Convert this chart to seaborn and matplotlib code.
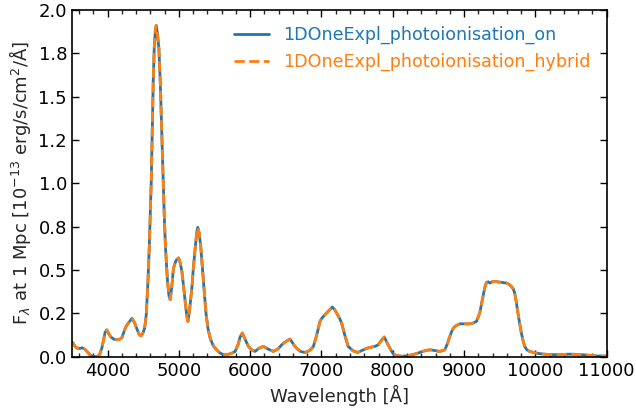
import matplotlib
matplotlib.use("Agg")
import matplotlib.pyplot as plt
from matplotlib.ticker import MultipleLocator, FormatStrFormatter
import seaborn as sns
import pandas as pd

# Model spectra: wavelength [A] and flux [1e-13 erg/s/cm^2/A] at 1 Mpc
wavelength = [3500, 3517, 3545, 3573, 3610, 3643, 3680, 3713, 3759, 3800,
              3853, 3889, 3920, 3945, 3965, 3990, 4015, 4040, 4085, 4133,
              4175, 4203, 4235, 4263, 4300, 4343, 4380, 4413, 4445, 4469,
              4495, 4520, 4543, 4567, 4585, 4599, 4613, 4623, 4632, 4641,
              4655, 4670, 4683, 4697, 4710, 4720, 4739, 4753, 4767, 4781,
              4795, 4813, 4841, 4862, 4879, 4900, 4925, 4960, 4996, 5020,
              5043, 5065, 5089, 5110, 5127, 5150, 5183, 5205, 5229, 5250,
              5266, 5285, 5309, 5325, 5345, 5365, 5383, 5410, 5439, 5475,
              5509, 5545, 5579, 5620, 5649, 5700, 5750, 5789, 5830, 5860,
              5891, 5930, 5975, 6020, 6069, 6120, 6185, 6250, 6325, 6390,
              6443, 6500, 6559, 6610, 6653, 6710, 6769, 6830, 6885, 6930,
              6979, 7010, 7049, 7100, 7151, 7185, 7213, 7250, 7283, 7330,
              7375, 7440, 7507, 7560, 7609, 7660, 7703, 7750, 7795, 7840,
              7880, 7920, 7959, 8005, 8060, 8140, 8230, 8320, 8420, 8480,
              8530, 8590, 8659, 8729, 8765, 8799, 8835, 8869, 8939, 9000,
              9079, 9130, 9173, 9219, 9265, 9290, 9313, 9340, 9359, 9385,
              9405, 9450, 9499, 9550, 9593, 9630, 9663, 9690, 9709, 9730,
              9755, 9780, 9803, 9825, 9849, 9880, 9919, 10013, 10100, 10190,
              10300, 10470, 10570, 10660, 10760, 10850, 11000]

flux_on = [0.085, 0.079, 0.060, 0.050, 0.048, 0.052, 0.044, 0.031, 0.008, 0.002,
           0.001, 0.012, 0.050, 0.098, 0.140, 0.155, 0.135, 0.117, 0.102, 0.098,
           0.102, 0.112, 0.150, 0.178, 0.198, 0.222, 0.195, 0.160, 0.128, 0.120,
           0.135, 0.165, 0.242, 0.435, 0.627, 0.820, 1.010, 1.200, 1.400, 1.590,
           1.780, 1.880, 1.910, 1.870, 1.820, 1.780, 1.590, 1.400, 1.200, 1.010,
           0.820, 0.627, 0.435, 0.350, 0.330, 0.400, 0.512, 0.555, 0.570, 0.540,
           0.492, 0.410, 0.319, 0.240, 0.204, 0.270, 0.396, 0.520, 0.627, 0.715,
           0.746, 0.715, 0.627, 0.540, 0.435, 0.330, 0.242, 0.160, 0.108, 0.070,
           0.050, 0.034, 0.021, 0.014, 0.012, 0.015, 0.022, 0.031, 0.070, 0.115,
           0.137, 0.100, 0.060, 0.040, 0.031, 0.048, 0.060, 0.045, 0.031, 0.045,
           0.069, 0.088, 0.102, 0.070, 0.048, 0.030, 0.025, 0.035, 0.058, 0.120,
           0.204, 0.225, 0.242, 0.265, 0.287, 0.272, 0.252, 0.225, 0.194, 0.120,
           0.060, 0.035, 0.025, 0.035, 0.044, 0.052, 0.056, 0.060, 0.069, 0.095,
           0.114, 0.080, 0.050, 0.017, 0.006, 0.003, 0.008, 0.017, 0.031, 0.038,
           0.040, 0.036, 0.031, 0.040, 0.075, 0.117, 0.155, 0.175, 0.190, 0.190,
           0.190, 0.195, 0.204, 0.252, 0.348, 0.400, 0.429, 0.432, 0.425, 0.430,
           0.435, 0.433, 0.431, 0.428, 0.425, 0.418, 0.406, 0.390, 0.368, 0.320,
           0.252, 0.190, 0.137, 0.095, 0.060, 0.040, 0.031, 0.021, 0.016, 0.013,
           0.012, 0.015, 0.014, 0.012, 0.008, 0.005, 0.004]

flux_hybrid = [0.085, 0.079, 0.060, 0.050, 0.048, 0.052, 0.044, 0.031, 0.008, 0.002,
               0.001, 0.012, 0.050, 0.098, 0.140, 0.155, 0.135, 0.117, 0.102, 0.098,
               0.102, 0.112, 0.150, 0.178, 0.198, 0.222, 0.195, 0.160, 0.128, 0.120,
               0.135, 0.165, 0.242, 0.435, 0.627, 0.820, 1.010, 1.200, 1.400, 1.590,
               1.780, 1.880, 1.910, 1.870, 1.820, 1.780, 1.590, 1.400, 1.200, 1.010,
               0.820, 0.627, 0.435, 0.350, 0.330, 0.400, 0.512, 0.555, 0.570, 0.540,
               0.492, 0.410, 0.319, 0.240, 0.204, 0.270, 0.396, 0.520, 0.627, 0.715,
               0.746, 0.715, 0.627, 0.540, 0.435, 0.330, 0.242, 0.160, 0.108, 0.070,
               0.050, 0.034, 0.021, 0.014, 0.012, 0.015, 0.022, 0.031, 0.070, 0.115,
               0.137, 0.100, 0.060, 0.040, 0.031, 0.048, 0.060, 0.045, 0.031, 0.045,
               0.069, 0.088, 0.102, 0.070, 0.048, 0.030, 0.025, 0.035, 0.058, 0.120,
               0.204, 0.225, 0.242, 0.265, 0.287, 0.272, 0.252, 0.225, 0.194, 0.120,
               0.060, 0.035, 0.025, 0.035, 0.044, 0.052, 0.056, 0.060, 0.069, 0.095,
               0.114, 0.080, 0.050, 0.017, 0.006, 0.003, 0.008, 0.017, 0.031, 0.038,
               0.040, 0.036, 0.031, 0.040, 0.075, 0.117, 0.155, 0.175, 0.190, 0.190,
               0.190, 0.195, 0.204, 0.252, 0.348, 0.400, 0.429, 0.432, 0.425, 0.430,
               0.435, 0.433, 0.431, 0.428, 0.425, 0.418, 0.406, 0.390, 0.368, 0.320,
               0.252, 0.190, 0.137, 0.095, 0.060, 0.040, 0.031, 0.021, 0.016, 0.013,
               0.012, 0.015, 0.014, 0.012, 0.008, 0.005, 0.004]

label_on = "1DOneExpl_photoionisation_on"
label_hybrid = "1DOneExpl_photoionisation_hybrid"

sns.set_style("ticks")
plt.rcParams["font.family"] = ["DejaVu Sans"]
plt.rcParams["mathtext.fontset"] = "dejavusans"

df_on = pd.DataFrame({"wl": wavelength, "flux": flux_on})
df_hy = pd.DataFrame({"wl": wavelength, "flux": flux_hybrid})

fig = plt.figure(figsize=(6.36, 4.12), dpi=100)
ax = fig.add_axes([0.113, 0.134, 0.841, 0.842])

sns.lineplot(data=df_on, x="wl", y="flux", ax=ax, color="#1f77b4",
             linewidth=2.0, label=label_on, solid_joinstyle="round")
sns.lineplot(data=df_hy, x="wl", y="flux", ax=ax, color="#ff7f0e",
             linewidth=2.0, linestyle="--", label=label_hybrid,
             dash_joinstyle="round")

ax.set_xlim(3500, 11000)
ax.set_ylim(0, 2.0)
ax.xaxis.set_major_locator(MultipleLocator(1000))
ax.xaxis.set_minor_locator(MultipleLocator(200))
ax.yaxis.set_major_locator(MultipleLocator(0.25))
ax.yaxis.set_major_formatter(FormatStrFormatter("%.1f"))

ax.tick_params(axis="both", which="major", direction="in", length=5, width=1,
               labelsize=13, top=True, right=True, colors="black")
ax.tick_params(axis="x", which="minor", direction="in", length=3, width=1,
               top=True, bottom=True)
for s in ax.spines.values():
    s.set_linewidth(1.2)
    s.set_color("black")

ax.set_xlabel("Wavelength [Å]", fontsize=13)
ax.set_ylabel(r"F$_\lambda$ at 1 Mpc [10$^{-13}$ erg/s/cm$^2$/Å]", fontsize=13)

ax.legend(loc="upper right", frameon=False, fontsize=12.6, labelcolor="linecolor")

fig.savefig("out.png", dpi=100)
